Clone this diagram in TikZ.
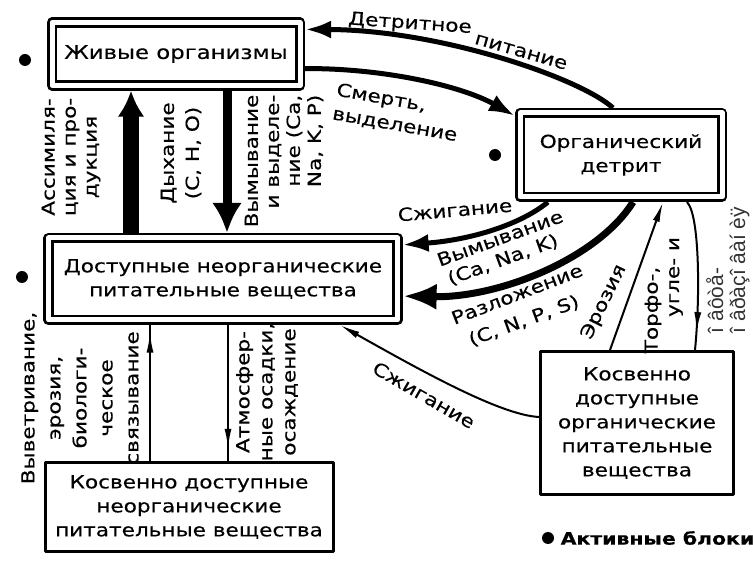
\documentclass[tikz,border=0pt]{standalone}
\usepackage{fontspec}
\setmainfont{DejaVu Sans}[FakeStretch=1.2, FakeBold=0.4]
\newfontfamily\scanfont{Liberation Sans}
\usetikzlibrary{arrows.meta, decorations.markings}

\begin{document}
\begin{tikzpicture}[x=1pt, y=-1pt, >=Latex, line join=round,
		font=\fontsize{18}{24}\selectfont,
		dblbox/.style={draw, double, line width=2.6pt, double distance=5pt,
			outer sep=5.1pt, inner sep=0pt, align=center},
		onebox/.style={draw, line width=3pt, outer sep=1.5pt, inner sep=0pt, align=center},
		flowbig/.style={line width=5pt, -{Latex[length=26pt,width=18pt]}},
		flowthin/.style={line width=2pt},
		midarrow/.style={postaction={decorate},
			decoration={markings, mark=at position #1 with {\arrow{Latex[length=20pt,width=7pt]}}}},
		active/.style={circle, fill, inner sep=0pt, minimum size=12pt}]
	
	\useasboundingbox (0,0) rectangle (753,561);
	
	%========================
	% compartments
	%========================
	\node[dblbox, minimum width=248pt, minimum height=63pt, font=\fontsize{19}{24}\selectfont] (live) at (176,54) {Живые организмы};
	\node[dblbox, minimum width=349pt, minimum height=82pt] (avail) at (223,279)
	{Доступные неорганические\\питательные вещества};
	\node[dblbox, minimum width=202pt, minimum height=84pt] (detr) at (621,155)
	{Органический\\детрит};
	\node[onebox, minimum width=288pt, minimum height=89pt] (indinorg) at (189,507)
	{Косвенно доступные\\неорганические\\питательные вещества};
	\node[onebox, minimum width=193pt, minimum height=143pt] (indorg) at (637,423)
	{Косвенно\\доступные\\органические\\питательные\\вещества};
	
	% active compartments
	\node[active] (dlive) at (25,60) {};
	\node[active] (davail) at (22,277) {};
	\node[active] (ddetr) at (495,155) {};
	\node[active] (dkey) at (548,538) {};
	\node[anchor=west, font=\fontsize{17}{24}\selectfont\bfseries] (key) at ([xshift=3pt]dkey.east) {Активные блоки};
	
	%========================
	% thick flows
	%========================
	% detritus -> organisms
	\draw[flowbig] ([xshift=-8pt]detr.north) .. controls (580,78) and (440,30) .. ([yshift=-12pt]live.north east);
	\node[rotate=-4] (lbfeed) at (410,24) {Детритное};
	\node[rotate=-16] (lbfeedb) at (521,52) {питание};
	
	% organisms -> detritus
	\draw[flowbig] ([yshift=22pt]live.south east) .. controls (380,68) and (460,85) .. ([yshift=-8pt]detr.north west);
	\node[rotate=-10, align=left] (lbdeath) at (397,113) {Смерть,\\выделение};
	
	% detritus -> available
	\draw[flowbig] ([xshift=33pt]detr.south west) .. controls (520,225) and (470,240) .. ([yshift=-12pt]avail.north east);
	\node[rotate=5] (lbburn) at (455,210) {Сжигание};
	\draw[flowbig, line width=7pt, -{Latex[length=34pt,width=26pt]}] ([xshift=12pt]detr.south) .. controls (598,258) and (500,298) .. ([yshift=29pt]avail.south east);
	\node[rotate=20] (lbwash) at (500,238) {Вымывание};
	\node[rotate=20] (lbwashel) at (503,260) {(Ca, Na, K)};
	\node[rotate=21] (lbdecay) at (517,294) {Разложение};
	\node[rotate=20] (lbdecayel) at (524,321) {(C, N, P, S)};
	
	% available <-> organisms
	\draw[line width=16pt, -{Latex[length=26pt,width=27pt]}] ([xshift=-92pt]avail.north) -- ([xshift=-92pt]avail.north |- live.south);
	\node[rotate=90, align=center, font=\fontsize{18}{21}\selectfont] (lbassim) at (71,157) {Ассимиля-\\ция и про-\\дукция};
	\draw[line width=9pt, -{Latex[length=30pt,width=30pt]}] ([xshift=51pt]live.south) -- ([xshift=51pt]live.south |- avail.north);
	\node[rotate=90, align=center, font=\fontsize{18}{25}\selectfont] (lbresp) at (181,153) {Дыхание\\(C, H, O)};
	\node[rotate=90, align=right, font=\fontsize{18}{21}\selectfont] (lbexcr) at (284,161) {Вымывание\\и выделе-\\ние (Ca,\\Na, K, P)};
	
	%========================
	% thin flows
	%========================
	\draw[flowthin, midarrow=0.945] ([xshift=-39pt]indinorg.north) -- ([xshift=-39pt]indinorg.north |- avail.south);
	\node[rotate=90, align=center, font=\fontsize{18}{26}\selectfont] (lbweath) at (80,398) {Выветривание,\\эрозия,\\биологи-\\ческое\\связывание};
	\draw[flowthin, midarrow=0.91] ([xshift=5pt]avail.south) -- ([xshift=5pt]avail.south |- indinorg.north);
	\node[rotate=90, align=center, font=\fontsize{18}{23}\selectfont] (lbrain) at (267,392) {Атмосфер-\\ные осадки,\\осаждение};
	
	% indirect organic -> available
	\draw[flowthin, -{Latex[length=20pt,width=7pt]}] ([yshift=6pt]indorg.west) .. controls (500,415) and (420,370) .. ([xshift=117pt]avail.south);
	\node[rotate=-30] (lbburn2) at (424,395) {Сжигание};
	
	% indirect organic -> detritus
	\draw[flowthin, -{Latex[length=20pt,width=7pt]}] ([xshift=-27pt]indorg.north) -- ([xshift=42pt]detr.south);
	\node[rotate=64] (lberos) at (604,302) {Эрозия};
	
	% detritus -> indirect organic
	\draw[flowthin, midarrow=0.88] ([xshift=66pt]detr.south) .. controls (700,215) and (700,300) .. ([xshift=58pt]indorg.north);
	\node[rotate=90] (lbpeat) at (653,310) {Торфо-,};
	\node[rotate=90] (lbcoal) at (676,277) {угле- и};
	\node[rotate=90, align=left, text=black!80, inner sep=1pt, font=\fontsize{21}{22}\scanfont] (lbform) at (728,270) {î âôòå-\\î âðàçî âàí èÿ};
	
\end{tikzpicture}
\end{document}
